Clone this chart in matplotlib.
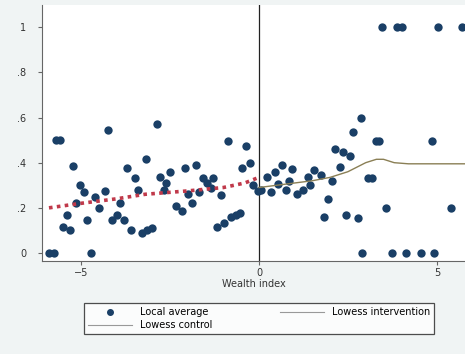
import numpy as np
import matplotlib
matplotlib.use("Agg")
import matplotlib.pyplot as plt
from matplotlib.lines import Line2D

# local averages (wealth index, share)
avg_x = [-5.9, -5.75, -5.7, -5.6, -4.72, -4.24, -5.22, -5.03, -4.92, -5.14, -5.39, -5.5,
         -5.3, -4.83, -4.6, -4.33, -4.49, -3.9, -4.0, -4.13, -3.8, -3.7, -3.48, -3.4,
         -3.6, -3.29, -3.17, -3.15, -2.87, -3.0, -2.78, -2.61, -2.67, -2.5, -2.33, -2.16,
         -2.08, -1.77, -2.0, -1.88, -1.57, -1.46, -1.29, -1.35, -1.69, -1.07, -1.18, -0.98,
         -0.79, -0.65, -0.53, -0.87, -0.37, -0.48, -0.25, -0.17, -0.03,
         0.05, 0.34, 0.22, 0.45, 0.65, 0.93, 0.53, 0.76, 0.84, 1.07, 1.24, 1.43, 1.38,
         1.55, 1.74, 2.05, 2.28, 2.13, 2.36, 2.56, 2.64, 2.87, 1.94, 1.83, 2.44, 2.78,
         2.9, 3.45, 3.88, 4.02, 5.03, 5.7, 3.29, 3.37, 4.86, 3.06, 3.17, 3.57, 5.39,
         3.74, 4.13, 4.55, 4.92]
avg_y = [0.0, 0.0, 0.5, 0.5, 0.0, 0.545, 0.385, 0.30, 0.27, 0.22, 0.17, 0.115,
         0.10, 0.146, 0.25, 0.275, 0.20, 0.22, 0.17, 0.146, 0.146, 0.376, 0.33, 0.28,
         0.10, 0.09, 0.415, 0.10, 0.57, 0.11, 0.336, 0.31, 0.28, 0.36, 0.21, 0.186,
         0.376, 0.39, 0.26, 0.22, 0.33, 0.31, 0.33, 0.29, 0.27, 0.257, 0.115, 0.133,
         0.16, 0.168, 0.177, 0.495, 0.473, 0.376, 0.40, 0.30, 0.275,
         0.28, 0.27, 0.336, 0.36, 0.39, 0.37, 0.305, 0.28, 0.32, 0.26, 0.28, 0.30, 0.336,
         0.367, 0.345, 0.32, 0.38, 0.46, 0.447, 0.43, 0.535, 0.60, 0.24, 0.16, 0.168, 0.155,
         0.0, 1.0, 1.0, 1.0, 1.0, 1.0, 0.495, 0.495, 0.495, 0.33, 0.33, 0.20, 0.20,
         0.0, 0.0, 0.0, 0.0]

# lowess fits
ctrl_x = [-5.9, -5.0, -4.0, -3.2, -2.0, -1.0, -0.4, 0.0]
ctrl_y = [0.20, 0.22, 0.24, 0.26, 0.275, 0.29, 0.31, 0.335]
int_x = [0.0, 0.5, 1.0, 1.5, 2.0, 2.5, 3.0, 3.3, 3.5, 3.8, 4.2, 5.0, 5.8]
int_y = [0.29, 0.30, 0.31, 0.32, 0.335, 0.36, 0.40, 0.415, 0.415, 0.40, 0.395, 0.395, 0.395]

yticks = [0, 0.2, 0.4, 0.6, 0.8, 1]
ytick_labels = ["0", ".2", ".4", ".6", ".8", "1"]
xticks = [-5, 0, 5]

fig = plt.figure(figsize=(4.65, 3.54), dpi=100, facecolor="#f0f4f4")
ax = fig.add_axes([0.090, 0.263, 0.910, 0.722])
ax.set_facecolor("white")

ax.plot(avg_x, avg_y, "o", color="#1a3f66", markersize=6, markeredgewidth=0, zorder=3)
ax.plot(ctrl_x, ctrl_y, color="#c0394a", linestyle=(0, (1, 1.2)), linewidth=2.6, zorder=4)
ax.plot(int_x, int_y, color="#8a7f55", linewidth=1.0, zorder=4)
ax.axvline(0, color="#222222", linewidth=0.9, zorder=2)

ax.set_xlim(-6.1, 5.79)
ax.set_ylim(-0.035, 1.097)
ax.set_yticks(yticks)
ax.set_yticklabels(ytick_labels)
ax.set_xticks(xticks)
for s in ["top", "right"]:
    ax.spines[s].set_visible(False)
for s in ["left", "bottom"]:
    ax.spines[s].set_color("#666666")
    ax.spines[s].set_linewidth(0.8)
ax.tick_params(labelsize=7, length=3, color="#666666", labelcolor="#333333", pad=2)
ax.tick_params(axis="y", pad=8)
ax.set_xlabel("Wealth index", fontsize=7, color="#333333", labelpad=1)

handles = [
    Line2D([], [], marker="o", linestyle="none", color="#1a3f66", markersize=4),
    Line2D([], [], color="#999999", linewidth=0.8),
    Line2D([], [], color="#999999", linewidth=0.8),
]
labels = ["Local average", "Lowess control", "Lowess intervention"]
leg = fig.legend(handles, labels, loc="center", bbox_to_anchor=(0.557, 0.10), ncol=2,
                 fontsize=7, frameon=True, fancybox=False, edgecolor="#222222",
                 handlelength=4.5, columnspacing=7, borderpad=0.45, labelspacing=0.3)
leg.get_frame().set_linewidth(0.9)

fig.savefig("out.png", dpi=100, facecolor=fig.get_facecolor())
